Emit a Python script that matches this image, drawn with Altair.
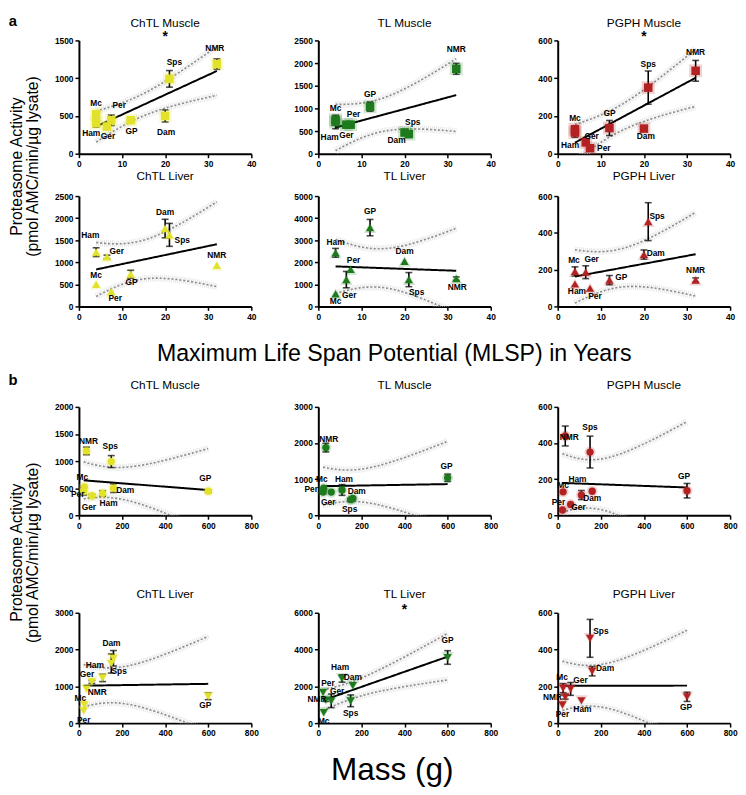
import altair as alt
import numpy as np
import pandas as pd

# ---------------- data ----------------
species = ["Mc", "Ham", "Ger", "Per", "GP", "Dam", "Sps", "NMR"]
mlsp_years = [4, 4, 6.5, 7.5, 12, 20, 21, 32]
mass_g = [25, 110, 60, 22, 600, 160, 150, 35]

chtl_muscle = [522, 404, 360, 443, 443, 500, 991, 1187]
chtl_muscle_err = [0, 50, 30, 70, 25, 80, 110, 70]
tl_muscle = [750, 700, 641, 641, 1037, 468, 432, 1873]
tl_muscle_err = [0, 150, 0, 40, 100, 30, 30, 120]
pgph_muscle = [130, 112, 60, 29, 136, 133, 350, 439]
pgph_muscle_err = [0, 25, 0, 0, 40, 0, 88, 55]
chtl_liver = [500, 1229, 1121, 336, 729, 1764, 1621, 929]
chtl_liver_err = [0, 100, 40, 0, 90, 210, 260, 0]
tl_liver = [571, 2429, 1214, 1671, 3571, 2043, 1214, 1257]
tl_liver_err = [0, 200, 370, 0, 370, 0, 320, 80]
pgph_liver = [190, 122, 186, 99, 143, 282, 461, 143]
pgph_liver_err = [25, 0, 35, 0, 25, 25, 103, 12]

mlsp_ticks = [0, 10, 20, 30, 40]
mass_ticks = [0, 200, 400, 600, 800]

T_975_DF6 = 2.447  # t quantile for 95% CI with n-2 = 6 df

# ---------------- styling / layout ----------------
YELLOW = "#e2e22a"
GREEN = "#1d7a1d"
RED = "#b22222"
FONT = "Liberation Sans, Arial, sans-serif"
NARROW = "Liberation Sans Narrow, Arial Narrow, Liberation Sans, sans-serif"
W = 175

label_offsets = {
    "a1": {"Mc": (0, -11), "Ham": (-5, 10), "Ger": (1, 10), "Per": (8, -15),
           "GP": (1, 11), "Dam": (1, 16), "Sps": (5, -17), "NMR": (-2, -16)},
    "a2": {"Mc": (0, -12), "Ham": (-6, 15), "Ger": (0, 11), "Per": (3, -11),
           "GP": (0, -13), "Dam": (-8, 8), "Sps": (4, -12), "NMR": (0, -20)},
    "a3": {"Mc": (0, -11), "Ham": (-5, 13), "Ger": (6, -6), "Per": (14, 0),
           "GP": (0, -15), "Dam": (2, 8), "Sps": (0, -24), "NMR": (0, -19)},
    "a4": {"Mc": (0, -9), "Ham": (-6, -17), "Ger": (10, -6), "Per": (4, 7),
           "GP": (1, 8), "Dam": (0, -17), "Sps": (13, 5), "NMR": (0, -11)},
    "a5": {"Mc": (0, 7), "Ham": (0, -11), "Ger": (3, 16), "Per": (3, -10),
           "GP": (0, -17), "Dam": (0, -10), "Sps": (8, 13), "NMR": (1, 8)},
    "a6": {"Mc": (-1, -12), "Ham": (2, 7), "Ger": (6, -13), "Per": (5, 8),
           "GP": (12, -3), "Dam": (12, -2), "Sps": (9, -6), "NMR": (0, -10)},
    "b1": {"Mc": (-2, -10), "Ham": (6, 10), "Ger": (-3, 11), "Per": (-6, 3),
           "GP": (-3, -13), "Dam": (12, 2), "Sps": (-1, -16), "NMR": (2, -10)},
    "b2": {"Mc": (-2, -9), "Ham": (2, -11), "Ger": (-3, 10), "Per": (-12, -3),
           "GP": (-1, -12), "Dam": (4, -7), "Sps": (-1, 10), "NMR": (3, -9)},
    "b3": {"Mc": (0, -7), "Ham": (-4, -16), "Ger": (8, 3), "Per": (-4, -8),
           "GP": (-3, -15), "Dam": (0, 7), "Sps": (0, -25), "NMR": (4, 1)},
    "b4": {"Mc": (-4, -7), "Ham": (-8, -13), "Ger": (-5, -8), "Per": (0, 9),
           "GP": (-3, 9), "Dam": (-2, -15), "Sps": (8, 8), "NMR": (11, 3)},
    "b5": {"Mc": (0, 9), "Ham": (-2, -12), "Ger": (6, -10), "Per": (5, -9),
           "GP": (0, -18), "Dam": (0, -9), "Sps": (0, 12), "NMR": (-9, -1)},
    "b6": {"Mc": (-1, -11), "Ham": (1, 8), "Ger": (10, -9), "Per": (0, 9),
           "GP": (-1, 10), "Dam": (13, -3), "Sps": (11, -7), "NMR": (-13, 0)},
}


def text_layer(txt, x, y, size, weight="normal", angle=0, font=FONT):
    return alt.Chart(pd.DataFrame({"t": [txt]})).mark_text(
        font=font, fontSize=size, fontWeight=weight, angle=angle,
        color="black", align="center", baseline="middle"
    ).encode(x=alt.value(x), y=alt.value(y), text="t:N")


def panel(key, title, xvals, vals, errs, xticks, ymax, ystep, color, shape,
          msize, height, title_y, star=False, extras=()):
    df = pd.DataFrame({"species": species, "x": xvals, "y": vals, "err": errs})
    df["lo"] = df["y"] - df["err"]
    df["hi"] = df["y"] + df["err"]

    X_ = np.asarray(xvals, float)
    Y_ = np.asarray(vals, float)
    n = len(X_)
    xm = X_.mean()
    sxx = ((X_ - xm) ** 2).sum()
    slope = ((X_ - xm) * (Y_ - Y_.mean())).sum() / sxx
    icpt = Y_.mean() - slope * xm
    s = np.sqrt(((Y_ - (icpt + slope * X_)) ** 2).sum() / (n - 2))
    g = np.linspace(X_.min(), X_.max(), 80)
    fit = icpt + slope * g
    half = T_975_DF6 * s * np.sqrt(1.0 / n + (g - xm) ** 2 / sxx)
    band = pd.DataFrame({"x": g, "fit": fit, "upper": fit + half, "lower": fit - half})

    yticks = list(range(0, ymax + 1, ystep))
    axx = alt.Axis(values=xticks, title=None, format="d")
    axy = alt.Axis(values=yticks, title=None, format="d")

    def XE():
        return alt.X("x:Q", scale=alt.Scale(domain=[xticks[0], xticks[-1]], nice=False, zero=False), axis=axx)

    def YE(f):
        return alt.Y(f"{f}:Q", scale=alt.Scale(domain=[0, ymax], nice=False), axis=axy)

    pts = alt.Chart(df)
    bnd = alt.Chart(band)
    layers = []
    for f in ("upper", "lower"):
        layers.append(bnd.mark_line(color="#e6e6e6", strokeWidth=7, strokeDash=[1, 1], clip=True)
                      .encode(x=XE(), y=YE(f)))
    for f in ("upper", "lower"):
        layers.append(bnd.mark_line(color="#8a8a8a", strokeWidth=1.6, strokeDash=[2, 2], clip=True)
                      .encode(x=XE(), y=YE(f)))
    layers.append(bnd.mark_line(color="black", strokeWidth=2).encode(x=XE(), y=YE("fit")))
    eb = pts.transform_filter("datum.err > 0")
    layers.append(eb.mark_rule(color="black", strokeWidth=1.6).encode(x=XE(), y=YE("lo"), y2="hi:Q"))
    for f in ("lo", "hi"):
        layers.append(eb.mark_tick(orient="horizontal", color="black", thickness=1.6, size=7)
                      .encode(x=XE(), y=YE(f)))
    layers.append(pts.mark_point(shape=shape, filled=True, size=msize * 2.3, color=color, opacity=0.2)
                  .encode(x=XE(), y=YE("y")))
    layers.append(pts.mark_point(shape=shape, filled=True, size=msize, color=color, opacity=1)
                  .encode(x=XE(), y=YE("y")))
    for sp, (dx, dy) in label_offsets[key].items():
        layers.append(pts.transform_filter(alt.datum.species == sp).mark_text(
            dx=dx, dy=dy, font=NARROW, fontSize=8.5, fontWeight="bold", color="black"
        ).encode(x=XE(), y=YE("y"), text="species:N"))
    layers.append(text_layer(title, W / 2, title_y, 12))
    if star:
        layers.append(text_layer("*", W / 2, -3, 14, "bold"))
    for e in extras:
        layers.append(text_layer(*e))
    return alt.layer(*layers).properties(width=W, height=height)


def spacer(h):
    return alt.Chart(pd.DataFrame({"v": [0]})).mark_point(opacity=0).encode(
        x=alt.value(0), y=alt.value(0)).properties(width=W, height=h)


ytitle1 = "Proteasome Activity"
ytitle2 = "(pmol AMC/min/\u00b5g lysate)"

a1 = panel("a1", "ChTL Muscle", mlsp_years, chtl_muscle, chtl_muscle_err, mlsp_ticks, 1500, 500,
           YELLOW, "square", 75, 115, -18, star=True,
           extras=[("a", -67, -20, 15, "bold"),
                   (ytitle1, -63, 128, 16, "normal", 270),
                   (ytitle2, -47, 128, 16, "normal", 270)])
a2 = panel("a2", "TL Muscle", mlsp_years, tl_muscle, tl_muscle_err, mlsp_ticks, 2500, 500,
           GREEN, "square", 75, 115, -18)
a3 = panel("a3", "PGPH Muscle", mlsp_years, pgph_muscle, pgph_muscle_err, mlsp_ticks, 600, 200,
           RED, "square", 75, 115, -18, star=True)
a4 = panel("a4", "ChTL Liver", mlsp_years, chtl_liver, chtl_liver_err, mlsp_ticks, 2500, 500,
           YELLOW, "triangle-up", 70, 112, -20)
a5 = panel("a5", "TL Liver", mlsp_years, tl_liver, tl_liver_err, mlsp_ticks, 5000, 1000,
           GREEN, "triangle-up", 70, 112, -20,
           extras=[("Maximum Life Span Potential (MLSP) in Years", 77, 160, 23.5)])
a6 = panel("a6", "PGPH Liver", mlsp_years, pgph_liver, pgph_liver_err, mlsp_ticks, 600, 200,
           RED, "triangle-up", 70, 112, -20)

b1 = panel("b1", "ChTL Muscle", mass_g, chtl_muscle, chtl_muscle_err, mass_ticks, 2000, 500,
           YELLOW, "circle", 55, 110, -22,
           extras=[("b", -67, -27, 15, "bold"),
                   (ytitle1, -63, 148, 16, "normal", 270),
                   (ytitle2, -47, 148, 16, "normal", 270)])
b2 = panel("b2", "TL Muscle", mass_g, tl_muscle, tl_muscle_err, mass_ticks, 3000, 1000,
           GREEN, "circle", 55, 110, -22)
b3 = panel("b3", "PGPH Muscle", mass_g, pgph_muscle, pgph_muscle_err, mass_ticks, 600, 200,
           RED, "circle", 55, 110, -22)
b4 = panel("b4", "ChTL Liver", mass_g, chtl_liver, chtl_liver_err, mass_ticks, 3000, 1000,
           YELLOW, "triangle-down", 70, 112, -19)
b5 = panel("b5", "TL Liver", mass_g, tl_liver, tl_liver_err, mass_ticks, 6000, 2000,
           GREEN, "triangle-down", 70, 112, -19, star=True,
           extras=[("Mass (g)", 75, 160, 32)])
b6 = panel("b6", "PGPH Liver", mass_g, pgph_liver, pgph_liver_err, mass_ticks, 600, 200,
           RED, "triangle-down", 70, 112, -19)

cells = [a1, a2, a3,
         a4, a5, a6,
         spacer(16), spacer(16), spacer(16),
         b1, b2, b3,
         spacer(13), spacer(13), spacer(13),
         b4, b5, b6]

chart = alt.concat(*cells, columns=3, spacing={"row": 43, "column": 68}, bounds="flush").properties(
    padding={"left": 0, "right": 0, "top": 0, "bottom": 0}
).configure_view(stroke=None).configure_axis(
    domainColor="black", domainWidth=2, tickColor="black", tickWidth=1.5, tickSize=4,
    labelFont=NARROW, labelFontSize=8.5, labelFontWeight="bold", labelColor="black",
    labelPadding=2, grid=False, labelFlush=False
)

chart.save("out.html", embed_options={"renderer": "svg", "actions": False})
